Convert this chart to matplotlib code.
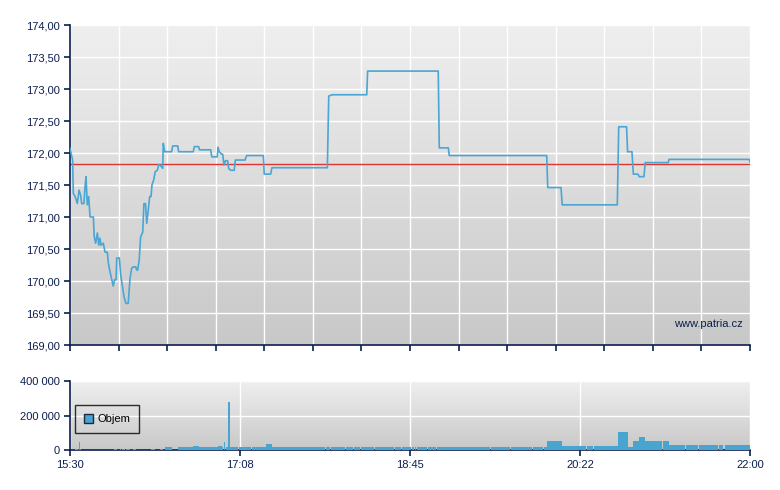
import matplotlib
matplotlib.use("Agg")
import matplotlib.pyplot as plt
import numpy as np
from matplotlib.patches import Rectangle
from matplotlib.colors import LinearSegmentedColormap

plt.rcParams['font.family'] = ['Liberation Sans', 'DejaVu Sans']

# ---- data ----
# minutes after 15:30
price_t = [0, 1.5, 1.9, 2.9, 4.2, 5.2, 6.1, 6.7, 8.0, 8.6, 9.2, 9.9, 10.7, 11.5, 13.4, 13.9,
           14.7, 15.7, 16.5, 17.2, 17.8, 19.1, 20.1, 21.4, 22.0, 22.9, 24.8, 25.6, 26.4, 26.8,
           28.3, 29.1, 31.0, 32.1, 33.4, 34.4, 35.4, 36.3, 37.7, 38.3, 38.8, 39.7, 40.5, 41.7,
           42.4, 43.3, 44.0, 44.9, 45.7, 46.5, 47.0, 48.0, 48.9, 50.1, 50.9, 52.0, 53.2, 53.5,
           54.3, 58.3, 58.9, 61.8, 62.3, 70.7, 71.3, 73.8, 74.2, 80.7, 81.3, 84.5, 84.9, 85.6,
           87.0, 87.6, 88.3, 89.2, 90.4, 91.0, 92.1, 94.2, 94.8, 100.4, 101.3, 110.9, 111.4,
           115.1, 115.8, 147.6, 148.4, 150.4, 170.2, 170.7, 211.2, 211.8, 217.0, 217.5, 273.4,
           274.0, 281.6, 282.3, 313.9, 314.7, 319.2, 319.8, 322.3, 323.1, 325.7, 326.5, 329.2,
           329.9, 343.1, 343.5, 389.6, 390]
price_v = [172.07, 171.89, 171.37, 171.32, 171.21, 171.42, 171.34, 171.21, 171.21, 171.47,
           171.63, 171.19, 171.32, 171.00, 171.00, 170.69, 170.59, 170.75, 170.56, 170.67,
           170.56, 170.59, 170.45, 170.45, 170.28, 170.15, 169.92, 170.02, 170.02, 170.36,
           170.36, 170.09, 169.75, 169.65, 169.65, 170.04, 170.20, 170.22, 170.22, 170.17,
           170.17, 170.33, 170.69, 170.76, 171.21, 171.21, 170.90, 171.11, 171.32, 171.32,
           171.50, 171.58, 171.71, 171.73, 171.82, 171.80, 171.76, 172.15, 172.02, 172.02,
           172.11, 172.11, 172.02, 172.02, 172.10, 172.10, 172.05, 172.05, 171.94, 171.94,
           172.09, 172.02, 171.98, 171.98, 171.81, 171.88, 171.88, 171.76, 171.73, 171.73,
           171.89, 171.89, 171.96, 171.96, 171.67, 171.67, 171.77, 171.77, 172.89, 172.91,
           172.91, 173.28, 173.28, 172.08, 172.08, 171.96, 171.96, 171.46, 171.46, 171.19,
           171.19, 172.41, 172.41, 172.02, 172.02, 171.67, 171.67, 171.63, 171.63, 171.85,
           171.85, 171.90, 171.90, 171.86]
prev_close = 171.83

vol_start = [2.9, 4.2, 5.2, 6.0, 25.2, 28.7, 29.6, 32.1, 36.1, 46.3, 46.9, 51.6, 54.5, 62.1,
             70.7, 74.2, 85.1, 87.0, 88.5, 89.3, 90.4, 91.8, 97.1, 104.2, 112.2, 115.8, 141.3,
             146.6, 149.5, 158.1, 162.7, 166.7, 169.4, 174.7, 186.2, 190.4, 196.0, 197.7, 198.8,
             205.1, 210.3, 241.3, 252.9, 265.4, 269.7, 271.7, 273.6, 282.0, 296.5, 300.5, 314.3,
             319.8, 322.9, 326.3, 329.8, 340.1, 343.5, 353.3, 360.7, 372.2, 375.6]
vol_end = [3.8, 4.6, 5.5, 6.4, 27.1, 29.3, 31.5, 34.4, 37.9, 46.9, 48.7, 53.5, 58.3, 70.7,
           74.2, 85.1, 87.0, 87.9, 88.8, 90.4, 91.8, 96.5, 103.6, 112.2, 115.8, 140.9, 146.2,
           149.1, 157.7, 162.3, 166.3, 169.0, 174.3, 185.8, 190.1, 195.6, 197.3, 198.4, 204.7,
           209.9, 240.9, 252.6, 265.0, 269.4, 271.3, 273.6, 282.0, 295.8, 299.7, 314.1, 319.8,
           322.7, 326.3, 329.8, 339.7, 343.3, 352.7, 360.2, 371.6, 374.3, 390.0]
vol_value = [4000, 4000, 46000, 4000, 5000, 8000, 5000, 6000, 3000, 8000, 3000, 3000, 19000,
             17000, 25000, 17000, 22000, 17000, 46000, 17000, 278000, 17000, 17000, 17000,
             35000, 17000, 17000, 17000, 17000, 17000, 17000, 17000, 17000, 17000, 17000,
             17000, 17000, 17000, 17000, 17000, 17000, 17000, 17000, 17000, 17000, 17000,
             52000, 23000, 23000, 23000, 104000, 17000, 52000, 75000, 52000, 52000, 29000,
             29000, 29000, 29000, 29000]

x_tick_labels = ['15:30', '17:08', '18:45', '20:22', '22:00']
price_ticks = [169.0, 169.5, 170.0, 170.5, 171.0, 171.5, 172.0, 172.5, 173.0, 173.5, 174.0]
vol_ticks = [0, 200000, 400000]
vol_tick_labels = ['0', '200 000', '400 000']

# ---- style ----
navy = '#0b1f4f'
line_c = '#4aa6d2'
bar_c = '#47a5cf'
W, H = 780, 490
fig = plt.figure(figsize=(W / 100, H / 100), dpi=100)
fig.patch.set_facecolor('white')

ax = fig.add_axes([70 / W, 1 - 345 / H, 680 / W, 320 / H])
axv = fig.add_axes([70 / W, 1 - 450 / H, 680 / W, 69 / H])

grad = np.linspace(0, 1, 256).reshape(-1, 1)
cmap = LinearSegmentedColormap.from_list('g', ['#efefef', '#c8c8c8'])

for a in (ax, axv):
    a.imshow(grad, extent=[0, 1, 0, 1], transform=a.transAxes, aspect='auto',
             cmap=cmap, zorder=-5, interpolation='bicubic')
    for s in ('top', 'right'):
        a.spines[s].set_visible(False)
    for s in ('left', 'bottom'):
        a.spines[s].set_color(navy)
        a.spines[s].set_linewidth(1.2)
    a.tick_params(axis='both', colors=navy, labelcolor=navy, labelsize=8, length=4,
                  width=1.2, direction='out')
    a.set_xlim(0, 390)

# main chart
ax.set_ylim(169, 174)
ax.set_yticks(price_ticks)
ax.set_yticklabels([f'{v:.2f}'.replace('.', ',') for v in price_ticks])
ax.set_xticks(np.linspace(0, 390, 15))
ax.set_xticklabels([])
ax.grid(True, color='white', linewidth=1.0, zorder=0)
ax.set_axisbelow(True)
ax.axhline(prev_close, color='#e03434', linewidth=1.0, zorder=2)
ax.plot(price_t, price_v, color=line_c, linewidth=1.2, zorder=3)
ax.text(0.99, 0.065, 'www.patria.cz', transform=ax.transAxes, ha='right', va='center',
        color=navy, fontsize=8)

# volume chart
axv.set_ylim(0, 400000)
axv.set_yticks(vol_ticks)
axv.set_yticklabels(vol_tick_labels)
axv.set_xticks(np.linspace(0, 390, 5))
axv.set_xticklabels(x_tick_labels)
axv.grid(True, color='white', linewidth=1.0, zorder=0)
axv.set_axisbelow(True)
widths = [e - s for s, e in zip(vol_start, vol_end)]
axv.bar(vol_start, vol_value, width=widths, align='edge', color=bar_c, linewidth=0, zorder=3)

leg_handle = Rectangle((0, 0), 1, 1, facecolor=bar_c, edgecolor='#1a2a40', linewidth=1)
leg = axv.legend([leg_handle], ['Objem'], loc='upper left', bbox_to_anchor=(0.0075, 0.65),
                 frameon=True, fancybox=False, fontsize=8, handlelength=0.8, handleheight=0.8,
                 handletextpad=0.4, borderpad=0.8, borderaxespad=0)
leg.get_frame().set_edgecolor('black')
leg.get_frame().set_facecolor('none')
leg.get_frame().set_linewidth(1.0)

fig.savefig('out.png', dpi=100)
